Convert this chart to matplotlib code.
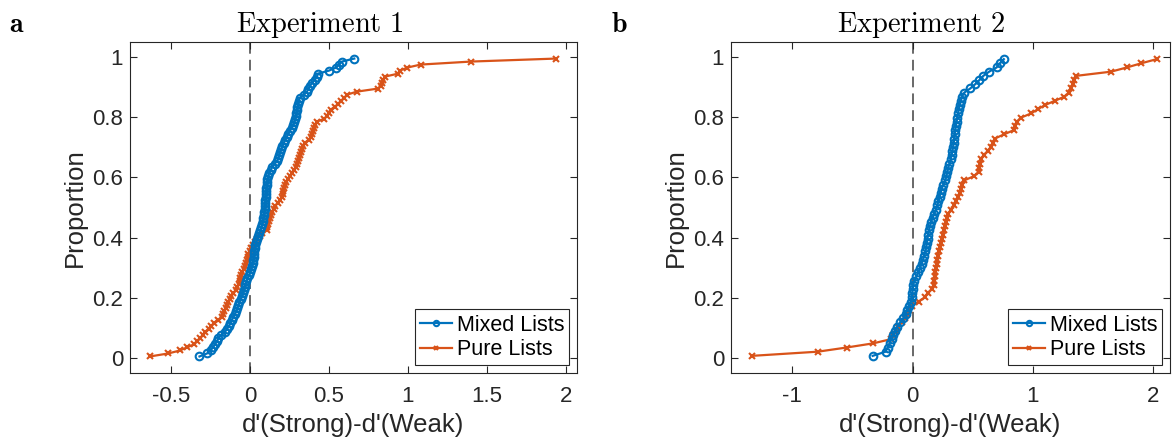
import numpy as np
import matplotlib
matplotlib.use("Agg")
import matplotlib.pyplot as plt

# d'(Strong) - d'(Weak), one value per participant (sorted)
exp1_mixed = [
    -0.320, -0.272, -0.250, -0.235, -0.222, -0.210, -0.200, -0.185, -0.160, -0.148,
    -0.135, -0.125, -0.117, -0.108, -0.098, -0.089, -0.082, -0.075, -0.068, -0.060,
    -0.053, -0.047, -0.041, -0.035, -0.029, -0.023, -0.017, -0.005, 0.002, 0.006,
    0.011, 0.016, 0.020, 0.022, 0.025, 0.027, 0.030, 0.033, 0.038, 0.044,
    0.050, 0.058, 0.066, 0.072, 0.077, 0.080, 0.084, 0.088, 0.090, 0.092,
    0.094, 0.096, 0.097, 0.099, 0.100, 0.102, 0.104, 0.106, 0.108, 0.110,
    0.114, 0.121, 0.130, 0.142, 0.156, 0.172, 0.180, 0.183, 0.188, 0.197,
    0.205, 0.213, 0.222, 0.232, 0.241, 0.252, 0.263, 0.272, 0.279, 0.285,
    0.290, 0.294, 0.297, 0.300, 0.303, 0.307, 0.318, 0.340, 0.360, 0.370,
    0.380, 0.395, 0.412, 0.422, 0.432, 0.500, 0.545, 0.565, 0.582, 0.660,
]
exp1_pure = [
    -0.633, -0.517, -0.443, -0.400, -0.355, -0.335, -0.316, -0.300, -0.285, -0.262,
    -0.245, -0.228, -0.200, -0.178, -0.170, -0.162, -0.155, -0.148, -0.140, -0.130,
    -0.120, -0.105, -0.088, -0.080, -0.073, -0.066, -0.061, -0.055, -0.048, -0.040,
    -0.035, -0.028, -0.022, -0.016, -0.010, 0.000, 0.008, 0.018, 0.030, 0.045,
    0.060, 0.075, 0.105, 0.110, 0.116, 0.121, 0.126, 0.133, 0.142, 0.150,
    0.157, 0.175, 0.192, 0.200, 0.206, 0.211, 0.216, 0.222, 0.230, 0.240,
    0.255, 0.268, 0.280, 0.292, 0.298, 0.303, 0.308, 0.314, 0.320, 0.327,
    0.334, 0.345, 0.375, 0.384, 0.390, 0.396, 0.402, 0.412, 0.422, 0.470,
    0.488, 0.498, 0.510, 0.538, 0.560, 0.578, 0.598, 0.615, 0.675, 0.808,
    0.829, 0.838, 0.844, 0.854, 0.939, 0.949, 0.996, 1.080, 1.400, 1.940,
]
exp2_mixed = [
    -0.332, -0.225, -0.208, -0.192, -0.174, -0.160, -0.147, -0.127, -0.105, -0.078,
    -0.058, -0.044, -0.028, -0.015, -0.006, -0.002, 0.002, 0.006, 0.015, 0.031,
    0.048, 0.061, 0.075, 0.087, 0.097, 0.106, 0.114, 0.119, 0.124, 0.128,
    0.135, 0.145, 0.154, 0.166, 0.180, 0.195, 0.205, 0.215, 0.224, 0.233,
    0.242, 0.255, 0.272, 0.281, 0.289, 0.297, 0.306, 0.316, 0.324, 0.331,
    0.337, 0.342, 0.346, 0.351, 0.355, 0.360, 0.365, 0.372, 0.378, 0.384,
    0.392, 0.401, 0.410, 0.430, 0.480, 0.520, 0.555, 0.588, 0.636, 0.698,
    0.725, 0.758,
]
exp2_pure = [
    -1.337, -0.789, -0.548, -0.327, -0.180, -0.160, -0.140, -0.120, -0.092, -0.065,
    -0.045, -0.032, -0.005, 0.050, 0.100, 0.125, 0.160, 0.176, 0.180, 0.184,
    0.190, 0.196, 0.200, 0.205, 0.211, 0.216, 0.226, 0.236, 0.244, 0.252,
    0.262, 0.270, 0.280, 0.288, 0.296, 0.320, 0.345, 0.360, 0.378, 0.390,
    0.400, 0.412, 0.430, 0.510, 0.550, 0.555, 0.562, 0.570, 0.590, 0.625,
    0.650, 0.667, 0.684, 0.760, 0.840, 0.855, 0.865, 0.900, 0.985, 1.040,
    1.100, 1.180, 1.260, 1.300, 1.320, 1.330, 1.345, 1.360, 1.650, 1.780,
    1.900, 2.030,
]

titles = ["Experiment 1", "Experiment 2"]
panel_letters = ["a", "b"]
series_labels = ["Mixed Lists", "Pure Lists"]
xticks_a = [-0.5, 0, 0.5, 1, 1.5, 2]
xticklabels_a = ["-0.5", "0", "0.5", "1", "1.5", "2"]
xticks_b = [-1, 0, 1, 2]
xticklabels_b = ["-1", "0", "1", "2"]
yticks = [0, 0.2, 0.4, 0.6, 0.8, 1]
yticklabels = ["0", "0.2", "0.4", "0.6", "0.8", "1"]

BLUE = "#0072BD"
ORANGE = "#D95319"
AXC = "#262626"

plt.rcParams["font.family"] = ["Liberation Sans", "DejaVu Sans"]
plt.rcParams["mathtext.fontset"] = "cm"
plt.rcParams["axes.unicode_minus"] = False


def ecdf_points(vals):
    x = np.sort(np.asarray(vals))
    n = len(x)
    p = (np.arange(1, n + 1) - 0.5) / n
    return x, p


fig = plt.figure(figsize=(11.72, 4.45), dpi=100)
W, H = 1172, 445
ax1 = fig.add_axes([130 / W, 1 - 373 / H, (577 - 130) / W, (373 - 42) / H])
ax2 = fig.add_axes([731 / W, 1 - 373 / H, (1170 - 731) / W, (373 - 42) / H])

panels = [
    (ax1, exp1_mixed, exp1_pure, (-0.76, 2.07), xticks_a, xticklabels_a, 0.425),
    (ax2, exp2_mixed, exp2_pure, (-1.51, 2.14), xticks_b, xticklabels_b, 0.434),
]

for k, (ax, mixed, pure, xl, xt, xtl, tx) in enumerate(panels):
    ax.axvline(0, color="#404040", lw=1.1, ls=(0, (7, 4)), zorder=1)
    xm, pm = ecdf_points(mixed)
    xp, pp = ecdf_points(pure)
    ax.plot(xm, pm, "-o", color=BLUE, lw=1.6, ms=5.5, mfc="none", mew=1.5,
            label=series_labels[0], zorder=3)
    ax.plot(xp, pp, "-x", color=ORANGE, lw=1.6, ms=4.2, mew=1.5,
            label=series_labels[1], zorder=2)

    ax.set_xlim(*xl)
    ax.set_ylim(-0.05, 1.05)
    ax.set_xticks(xt)
    ax.set_xticklabels(xtl)
    ax.set_yticks(yticks)
    ax.set_yticklabels(yticklabels)
    ax.tick_params(direction="in", top=True, right=True, length=5, width=0.8,
                   colors=AXC, labelsize=16)
    ax.tick_params(axis="x", pad=9)
    ax.tick_params(axis="y", pad=5)
    for s in ax.spines.values():
        s.set_color(AXC)
        s.set_linewidth(0.8)

    ax.set_xlabel("d'(Strong)-d'(Weak)", fontsize=18.5, color=AXC, labelpad=5)
    ax.set_ylabel("Proportion", fontsize=18.5, color=AXC, labelpad=4)
    ax.text(tx, 1.031, r"$\mathrm{" + titles[k].replace(" ", r"\ ") + "}$",
            transform=ax.transAxes, ha="center", va="baseline", fontsize=20.5)

    leg = ax.legend(loc="lower right", fontsize=15.5, frameon=True, fancybox=False,
                    edgecolor=AXC, framealpha=1, borderpad=0.25, labelspacing=0.15,
                    handlelength=1.5, handletextpad=0.2, borderaxespad=0.35,
                    markerscale=0.7)
    leg.get_frame().set_linewidth(0.8)

fig.text(9 / W, 1 - 32 / H, r"$\mathbf{a}$", fontsize=20, va="baseline")
fig.text(611 / W, 1 - 32 / H, r"$\mathbf{b}$", fontsize=20, va="baseline")

fig.savefig("out.png", dpi=100)
